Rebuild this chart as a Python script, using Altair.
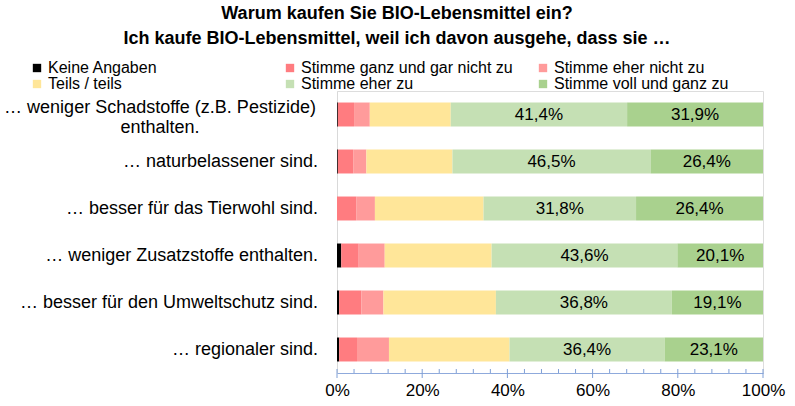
import altair as alt
import pandas as pd

categories = [
    "… weniger Schadstoffe (z.B. Pestizide) enthalten.",
    "… naturbelassener sind.",
    "… besser für das Tierwohl sind.",
    "… weniger Zusatzstoffe enthalten.",
    "… besser für den Umweltschutz sind.",
    "… regionaler sind.",
]
label_lines = [
    "… weniger Schadstoffe (z.B. Pestizide)\nenthalten.",
    "… naturbelassener sind.",
    "… besser für das Tierwohl sind.",
    "… weniger Zusatzstoffe enthalten.",
    "… besser für den Umweltschutz sind.",
    "… regionaler sind.",
]
series = ["Keine Angaben", "Stimme ganz und gar nicht zu", "Stimme eher nicht zu",
          "Teils / teils", "Stimme eher zu", "Stimme voll und ganz zu"]
colors = ["#000000", "#FF7C80", "#FF9B9B", "#FFE699", "#C5E0B4", "#A9D18E"]

keine_angaben = [0.2, 0.2, 0.0, 1.0, 0.5, 0.5]
ganz_nicht = [3.8, 3.6, 4.5, 4.1, 5.2, 4.2]
eher_nicht = [3.7, 3.1, 4.4, 6.1, 5.2, 7.5]
teils = [19.0, 20.2, 25.5, 25.1, 26.4, 28.3]
eher_zu = [41.4, 46.5, 35.8, 43.6, 41.3, 36.4]
voll = [31.9, 26.4, 29.8, 20.1, 21.4, 23.1]
eher_zu_labels = ["41,4%", "46,5%", "31,8%", "43,6%", "36,8%", "36,4%"]
voll_labels = ["31,9%", "26,4%", "26,4%", "20,1%", "19,1%", "23,1%"]

tick_values = list(range(0, 101, 4))
major_values = [0, 20, 40, 60, 80, 100]

FONT = "Liberation Sans"

rows = []
all_series = [keine_angaben, ganz_nicht, eher_nicht, teils, eher_zu, voll]
for i, cat in enumerate(categories):
    start = 0.0
    for j, s in enumerate(series):
        v = all_series[j][i]
        lab = ""
        if j == 4:
            lab = eher_zu_labels[i]
        elif j == 5:
            lab = voll_labels[i]
        rows.append({"item": cat, "series": s, "order": j, "start": start,
                     "end": start + v, "mid": start + v / 2, "label": lab})
        start += v
df = pd.DataFrame(rows)

lab_df = pd.DataFrame({"item": categories, "text": label_lines,
                       "first": [1, 0, 0, 0, 0, 0]})
tick_df = pd.DataFrame({"v": tick_values})
major_df = pd.DataFrame({"v": major_values})

yenc = alt.Y("item:N", sort=categories,
             scale=alt.Scale(paddingInner=0.49, paddingOuter=0.245),
             axis=alt.Axis(labels=False, ticks=False, title=None, domain=True,
                           domainColor="#D9D9D9", grid=False))

bars = alt.Chart(df).mark_bar().encode(
    x=alt.X("start:Q", scale=alt.Scale(domain=[0, 100], nice=False),
            axis=alt.Axis(values=major_values,
                          labelExpr="datum.value + '%'", ticks=False,
                          labelFlush=False,
                          domainColor="#8FAADC", labelFontSize=17,
                          labelColor="#000000", labelFont=FONT,
                          labelPadding=9, grid=False, title=None)),
    x2="end:Q",
    y=yenc,
    color=alt.Color("series:N", sort=series,
                    scale=alt.Scale(domain=series, range=colors),
                    legend=alt.Legend(orient="none", legendX=-308, legendY=-31,
                                      columns=3, direction="horizontal",
                                      gridAlign="all", columnPadding=22,
                                      rowPadding=0, symbolType="square",
                                      symbolSize=70, symbolStrokeWidth=0,
                                      labelFontSize=16, labelFont=FONT,
                                      labelLimit=400,
                                      labelColor="#000000", labelOffset=3,
                                      title=None)),
    order=alt.Order("order:Q"),
)

texts = alt.Chart(df).transform_filter("datum.label != ''").mark_text(
    fontSize=17, font=FONT, color="#000000"
).encode(x="mid:Q", y=alt.Y("item:N", sort=categories), text="label:N")

ticks = alt.Chart(tick_df).mark_rule(color="#7F9FD6", strokeWidth=1).encode(
    x="v:Q", y=alt.value(278), y2=alt.value(282))

major_ticks = alt.Chart(major_df).mark_rule(color="#7F9FD6", strokeWidth=1).encode(
    x="v:Q", y=alt.value(282), y2=alt.value(287))

ylab_rest = alt.Chart(lab_df).transform_filter("datum.first == 0").mark_text(
    align="right", baseline="middle", fontSize=18, font=FONT, color="#000000"
).encode(y=alt.Y("item:N", sort=categories), x=alt.value(-19), text="text:N")

ylab_first = alt.Chart(lab_df).transform_filter("datum.first == 1").mark_text(
    align="center", baseline="middle", fontSize=18, font=FONT, color="#000000",
    lineBreak="\n", lineHeight=20, dy=-7
).encode(y=alt.Y("item:N", sort=categories), x=alt.value(-177), text="text:N")

chart = alt.layer(bars, texts, ticks, major_ticks, ylab_rest, ylab_first).properties(
    width=426, height=282,
    autosize=alt.AutoSizeParams(type="none"),
    padding={"left": 337, "top": 91, "right": 32, "bottom": 33},
    title=alt.Title(
        text=["Warum kaufen Sie BIO-Lebensmittel ein?",
              "Ich kaufe BIO-Lebensmittel, weil ich davon ausgehe, dass sie …"],
        fontSize=18, font=FONT, fontWeight="bold",
        color="#000000", anchor="middle", frame="group", dx=-153,
        lineHeight=25, offset=12),
).configure_view(stroke=None).configure(background="#FFFFFF")

chart.save("out.html", embed_options={"renderer": "svg", "actions": False})
